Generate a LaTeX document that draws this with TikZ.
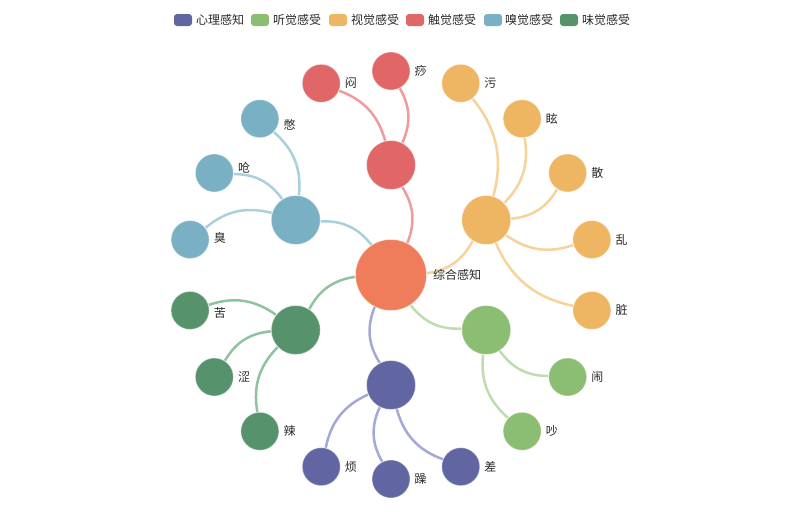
\documentclass[tikz,border=0pt]{standalone}
\usepackage{fontspec}
\setmainfont{Noto Sans CJK SC}
\usetikzlibrary{backgrounds}
\definecolor{cRoot}{RGB}{239,124,90}
\definecolor{cPur}{RGB}{97,102,163}
\definecolor{cLgr}{RGB}{139,189,114}
\definecolor{cOra}{RGB}{238,181,98}
\definecolor{cRed}{RGB}{224,102,104}
\definecolor{cBlu}{RGB}{122,176,195}
\definecolor{cDgr}{RGB}{86,146,107}
\definecolor{ePur}{RGB}{163,168,214}
\definecolor{eLgr}{RGB}{191,220,176}
\definecolor{eOra}{RGB}{247,211,155}
\definecolor{eRed}{RGB}{238,155,156}
\definecolor{eBlu}{RGB}{169,209,220}
\definecolor{eDgr}{RGB}{142,195,161}
\definecolor{txt}{RGB}{40,40,40}
\begin{document}
\begin{tikzpicture}[x=1pt,y=-1pt,
  ball/.style={circle,inner sep=0pt,fill=#1,draw=white,draw opacity=0.35,line width=1pt},
  rootball/.style={ball=#1,minimum size=71pt},
  midball/.style={ball=#1,minimum size=49pt},
  leafball/.style={ball=#1,minimum size=38pt},
  lbl/.style={font=\fontsize{12}{14}\selectfont,text=txt,inner sep=0pt},
  edge/.style={draw=#1,line width=2.5pt,bend right=27},
  swatch/.style={fill=#1,rounded corners=3pt,minimum width=18pt,minimum height=12pt,inner sep=0pt},
  leg/.style={font=\fontsize{12}{14}\selectfont,text=txt,inner sep=0pt,anchor=west},
  label distance=4pt]
\useasboundingbox (0,0) rectangle (800,512);

% legend
\node[swatch=cPur] (s1) at (183,20) {};
\node[leg] (l1) at (196,20) {心理感知};
\node[swatch=cLgr] (s2) at (260,20) {};
\node[leg] (l2) at (273,20) {听觉感受};
\node[swatch=cOra] (s3) at (338,20) {};
\node[leg] (l3) at (351,20) {视觉感受};
\node[swatch=cRed] (s4) at (415,20) {};
\node[leg] (l4) at (428,20) {触觉感受};
\node[swatch=cBlu] (s5) at (493,20) {};
\node[leg] (l5) at (505,20) {嗅觉感受};
\node[swatch=cDgr] (s6) at (569,20) {};
\node[leg] (l6) at (582,20) {味觉感受};

\begin{scope}[shift={(391,275)}]
\node[rootball=cRoot,label={[lbl,label distance=6pt]right:综合感知}] (root) at (0,0) {};
% middle level
\node[midball=cRed] (mRed) at (-90:110) {};
\node[midball=cOra] (mOra) at (-30:110) {};
\node[midball=cLgr] (mLgr) at (30:110) {};
\node[midball=cPur] (mPur) at (90:110) {};
\node[midball=cDgr] (mDgr) at (150:110) {};
\node[midball=cBlu] (mBlu) at (-150:110) {};
% leaves
\node[leafball=cRed,label={[lbl]right:痧}] (a1) at (-90:204) {};
\node[leafball=cRed,label={[lbl]right:闷}] (a2) at (-110:204) {};
\node[leafball=cBlu,label={[lbl,yshift=-6pt]right:憋}] (b1) at (-130:204) {};
\node[leafball=cBlu,label={[lbl,yshift=5pt]right:呛}] (b2) at (-150:204) {};
\node[leafball=cBlu,label={[lbl,yshift=2pt]right:臭}] (b3) at (-170:204) {};
\node[leafball=cDgr,label={[lbl,yshift=-3pt]right:苦}] (c1) at (170:204) {};
\node[leafball=cDgr,label={[lbl]right:涩}] (c2) at (150:204) {};
\node[leafball=cDgr,label={[lbl]right:辣}] (c3) at (130:204) {};
\node[leafball=cPur,label={[lbl]right:烦}] (d1) at (110:204) {};
\node[leafball=cPur,label={[lbl]right:躁}] (d2) at (90:204) {};
\node[leafball=cPur,label={[lbl]right:差}] (d3) at (70:204) {};
\node[leafball=cLgr,label={[lbl]right:吵}] (e1) at (50:204) {};
\node[leafball=cLgr,label={[lbl]right:闹}] (e2) at (30:204) {};
\node[leafball=cOra,label={[lbl]right:脏}] (f1) at (10:204) {};
\node[leafball=cOra,label={[lbl]right:乱}] (f2) at (-10:204) {};
\node[leafball=cOra,label={[lbl]right:散}] (f3) at (-30:204) {};
\node[leafball=cOra,label={[lbl]right:眩}] (f4) at (-50:204) {};
\node[leafball=cOra,label={[lbl]right:污}] (f5) at (-70:204) {};
\end{scope}

\begin{pgfonlayer}{background}
\draw[edge=eRed] (root) to (mRed);
\draw[edge=eOra] (root) to (mOra);
\draw[edge=eLgr] (root) to (mLgr);
\draw[edge=ePur] (root) to (mPur);
\draw[edge=eDgr] (root) to (mDgr);
\draw[edge=eBlu] (root) to (mBlu);
\draw[edge=eRed] (mRed) to (a1);
\draw[edge=eRed] (mRed) to (a2);
\draw[edge=eBlu] (mBlu) to (b1);
\draw[edge=eBlu] (mBlu) to (b2);
\draw[edge=eBlu] (mBlu) to (b3);
\draw[edge=eDgr] (mDgr) to (c1);
\draw[edge=eDgr] (mDgr) to (c2);
\draw[edge=eDgr] (mDgr) to (c3);
\draw[edge=ePur] (mPur) to (d1);
\draw[edge=ePur] (mPur) to (d2);
\draw[edge=ePur] (mPur) to (d3);
\draw[edge=eLgr] (mLgr) to (e1);
\draw[edge=eLgr] (mLgr) to (e2);
\draw[edge=eOra] (mOra) to (f1);
\draw[edge=eOra] (mOra) to (f2);
\draw[edge=eOra] (mOra) to (f3);
\draw[edge=eOra] (mOra) to (f4);
\draw[edge=eOra] (mOra) to (f5);
\end{pgfonlayer}
\end{tikzpicture}
\end{document}
